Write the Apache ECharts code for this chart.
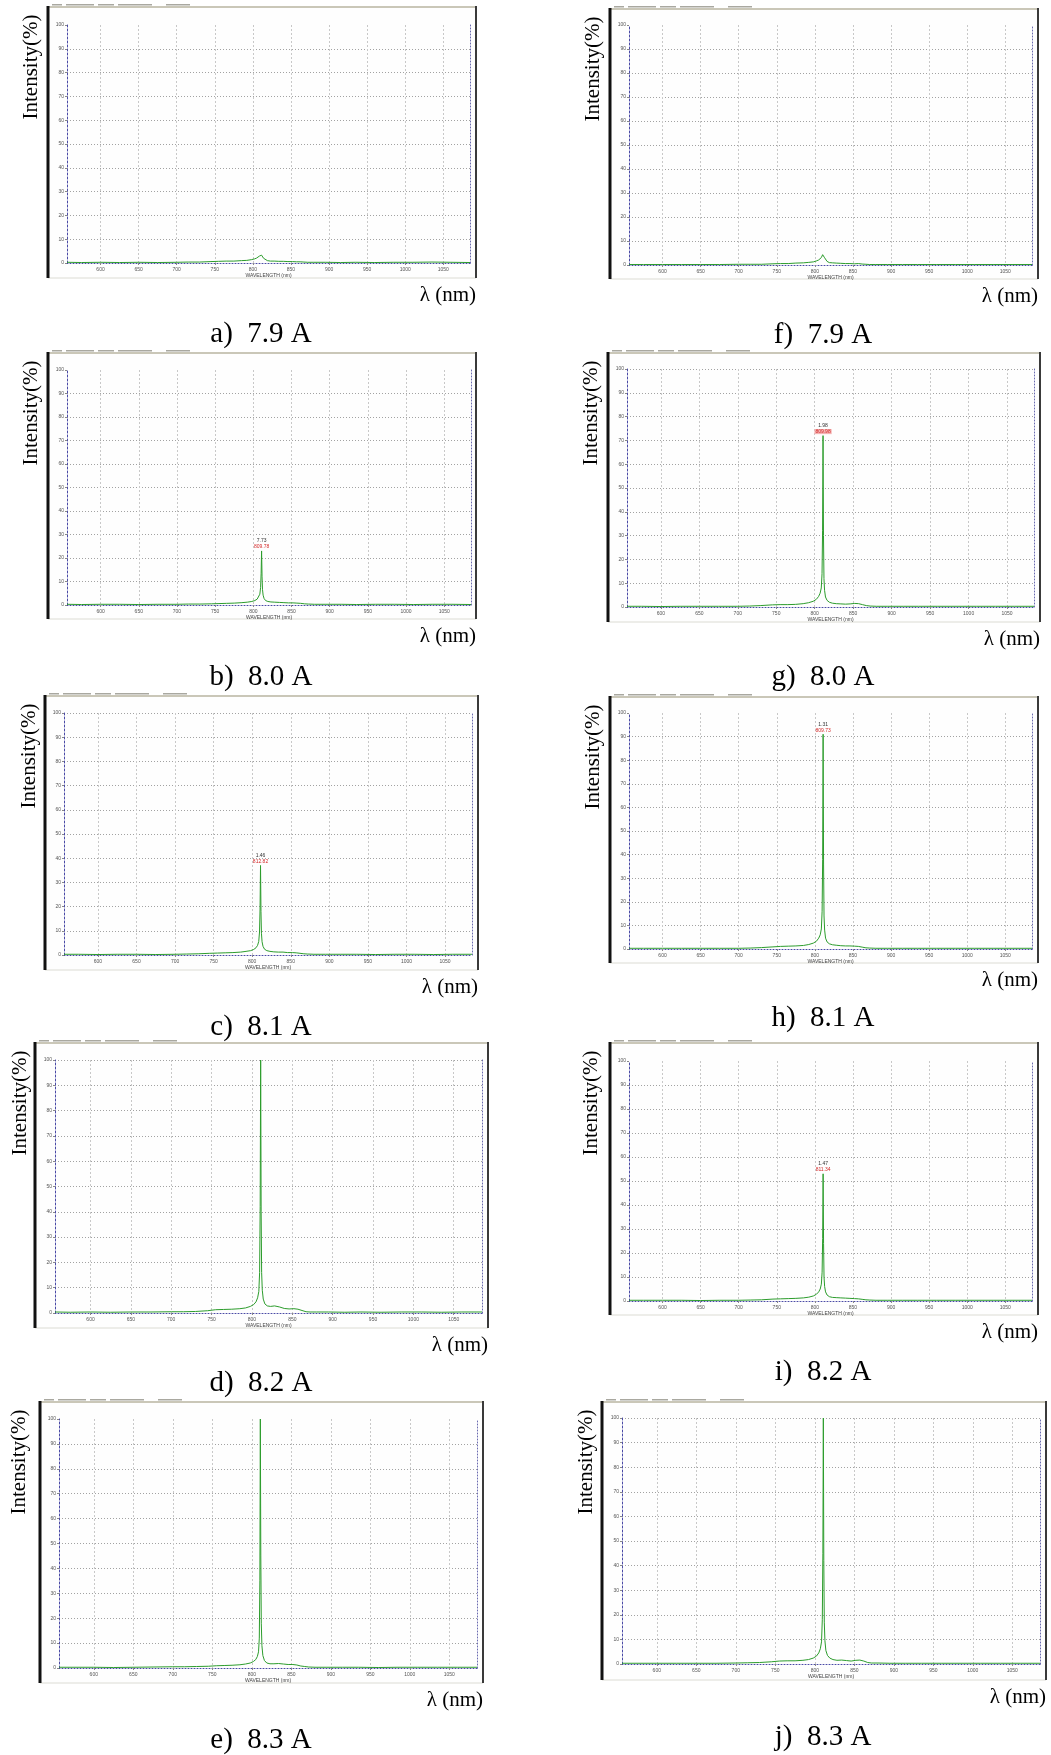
<!DOCTYPE html>
<html>
<head>
<meta charset="utf-8">
<script src="https://cdn.jsdelivr.net/npm/echarts@6/dist/echarts.min.js"></script>
<style>
  html, body { margin: 0; padding: 0; background: #fff; }
  #main { width: 1051px; height: 1755px; }
</style>
</head>
<body>
<div id="main"></div>
<script>
// wavelength samples (nm), shared by all ten spectra
var wavelength = [556,575,600,625,650,675,700,715,730,745,755,765,775,785,792,798,802,805,807,808.5,809.5,810.2,810.8,811.4,812,812.8,814,816,819,823,828,834,840,846,852,857,862,867,872,880,895,915,935,960,985,1010,1035,1060,1085];

// intensity (%)
var specA = [0.3,0.2,0.3,0.2,0.3,0.2,0.3,0.4,0.4,0.6,0.7,0.8,0.8,1.0,1.1,1.4,1.7,2.1,2.5,2.9,3.2,3.4,3.5,3.3,3.0,2.6,2.0,1.5,1.0,0.8,0.8,0.7,0.7,0.6,0.6,0.5,0.5,0.4,0.3,0.3,0.3,0.2,0.3,0.2,0.3,0.3,0.4,0.3,0.2];
var specB = [0.3,0.2,0.3,0.3,0.2,0.3,0.3,0.4,0.4,0.5,0.6,0.7,0.8,1.0,1.2,1.5,1.9,2.5,3.3,4.6,7.5,13.5,23,12,6.5,4.2,2.8,1.9,1.5,1.3,1.2,1.1,1.0,0.9,0.9,0.8,0.7,0.5,0.4,0.3,0.3,0.3,0.2,0.3,0.3,0.2,0.3,0.3,0.2];
var specC = [0.3,0.3,0.2,0.3,0.3,0.2,0.3,0.4,0.5,0.7,0.8,0.9,1.0,1.2,1.5,1.8,2.3,3.0,4.0,5.6,9.5,19,37,18,9,5.5,3.6,2.4,1.8,1.5,1.3,1.2,1.2,1.0,1.0,0.9,0.7,0.5,0.4,0.3,0.3,0.3,0.3,0.2,0.3,0.3,0.2,0.3,0.3];
var specD = [0.4,0.3,0.4,0.3,0.4,0.4,0.5,0.5,0.6,0.9,1.3,1.4,1.5,1.7,2.0,2.6,3.3,4.4,6.0,8.5,16,42,100,40,16,9,5.5,3.6,2.8,2.6,2.8,2.4,1.8,1.6,1.7,1.5,1.0,0.5,0.4,0.4,0.4,0.3,0.4,0.3,0.4,0.4,0.3,0.4,0.4];
var specE = [0.3,0.3,0.3,0.2,0.3,0.4,0.5,0.5,0.6,0.7,0.9,1.0,1.1,1.3,1.6,2.0,2.6,3.4,4.6,6.5,12,35,100,45,18,9,5,3,2,1.7,1.7,1.8,1.6,1.4,1.4,1.2,0.8,0.6,0.4,0.3,0.3,0.3,0.3,0.2,0.3,0.3,0.3,0.3,0.3];
var specF = [0.2,0.2,0.2,0.2,0.2,0.2,0.3,0.3,0.3,0.5,0.6,0.6,0.8,0.9,1.1,1.3,1.7,2.1,2.6,3.1,3.7,4.3,4.8,4.4,3.7,3.0,2.2,1.5,1.0,0.9,0.8,0.7,0.6,0.6,0.5,0.6,0.4,0.3,0.2,0.2,0.2,0.2,0.2,0.2,0.2,0.2,0.2,0.2,0.2];
var specG = [0.3,0.3,0.2,0.3,0.3,0.3,0.3,0.4,0.6,0.9,1.0,1.0,1.1,1.4,1.8,2.4,3.2,4.4,5.8,8,14,32,72,30,12,7,4.2,2.8,2.0,1.6,1.4,1.3,1.2,1.3,1.5,1.4,1.0,0.6,0.4,0.3,0.3,0.3,0.3,0.3,0.3,0.3,0.3,0.3,0.3];
var specH = [0.3,0.3,0.3,0.3,0.3,0.3,0.3,0.4,0.6,0.9,1.1,1.2,1.3,1.5,1.9,2.5,3.3,4.6,6.0,8.5,16,38,91,36,14,8,4.6,3.0,2.2,1.8,1.6,1.4,1.3,1.3,1.2,1.1,0.8,0.5,0.4,0.3,0.3,0.3,0.3,0.3,0.3,0.3,0.3,0.3,0.3];
var specI = [0.3,0.3,0.3,0.3,0.2,0.3,0.3,0.4,0.5,0.8,0.9,1.0,1.1,1.3,1.6,2.1,2.8,3.8,5.0,7,12,26,53,24,10,6,3.8,2.5,1.8,1.5,1.4,1.3,1.2,1.1,1.0,0.9,0.7,0.5,0.4,0.3,0.3,0.3,0.3,0.3,0.3,0.3,0.3,0.3,0.3];
var specJ = [0.3,0.3,0.3,0.3,0.3,0.3,0.4,0.5,0.6,0.9,1.2,1.3,1.3,1.5,1.8,2.4,3.2,4.5,6.2,9,18,45,100,42,17,9.5,5.5,3.5,2.4,1.8,1.5,1.6,1.4,1.2,1.5,1.6,1.2,0.6,0.4,0.4,0.3,0.3,0.3,0.3,0.3,0.3,0.3,0.3,0.3];

var spectra = [specA, specB, specC, specD, specE, specF, specG, specH, specI, specJ];
var captions = ['a)  7.9 A','b)  8.0 A','c)  8.1 A','d)  8.2 A','e)  8.3 A','f)  7.9 A','g)  8.0 A','h)  8.1 A','i)  8.2 A','j)  8.3 A'];
// peak readout printed by the spectrometer software ('' = none visible)
var peakCounts = ['', '7.73', '1.46', '', '', '', '1.98', '1.31', '1.47', ''];
var peakWaves  = ['', '809.78', '812.82', '', '', '', '809.98', '809.73', '811.34', ''];
var xTicks = [600,650,700,750,800,850,900,950,1000,1050];

// screenshot frames and plot areas, [left, top, right, bottom] in px
var layout = [
  {frame:[48,7,476,278],    plot:[67,25,470,263],    topLine:false, dx:-17, capX:261, capY:334},
  {frame:[48,353,476,619],  plot:[67,370,471,605],   topLine:false, dx:-17, capX:261, capY:677},
  {frame:[45,696,478,970],  plot:[64,713,472,955],   topLine:true,  dx:-16, capX:261, capY:1027},
  {frame:[35,1043,488,1328],plot:[55,1060,482,1313], topLine:true,  dx:-15, capX:261, capY:1383},
  {frame:[40,1402,483,1683],plot:[59,1419,477,1668], topLine:false, dx:-21, capX:261, capY:1740},
  {frame:[610,9,1038,279],  plot:[629,25,1032,265],  topLine:false, dx:-17, capX:823, capY:335},
  {frame:[608,353,1040,622],plot:[627,369,1034,607], topLine:true,  dx:-17, capX:823, capY:677},
  {frame:[610,697,1038,963],plot:[629,713,1032,949], topLine:false, dx:-17, capX:823, capY:1018},
  {frame:[610,1043,1038,1315],plot:[629,1061,1032,1301], topLine:false, dx:-19, capX:823, capY:1372},
  {frame:[602,1402,1046,1680],plot:[622,1418,1040,1664], topLine:true, dx:-16, capX:823, capY:1737}
];

var serif = 'Liberation Serif';
var tiny = 'Liberation Sans';
var chart = echarts.init(document.getElementById('main'));

var grids = [], xAxes = [], yAxes = [], rightAxes = [], series = [], elements = [];

function outerText(x, y, txt, size, align, rot) {
  return {
    type: 'text', x: x, y: y, rotation: rot || 0,
    style: {text: txt, fontFamily: serif, fontSize: size, fill: '#000',
      align: align, verticalAlign: 'middle', textAlign: align, textVerticalAlign: 'middle'}
  };
}

layout.forEach(function (p, k) {
  var pl = p.plot, fr = p.frame;
  grids.push({left: pl[0], top: pl[1], width: pl[2] - pl[0], height: pl[3] - pl[1], containLabel: false, outerBoundsMode: 'none'});

  xAxes.push({
    gridIndex: k, type: 'value', min: 556, max: 1085,
    name: 'WAVELENGTH (nm)', nameLocation: 'middle', nameGap: 10,
    nameTextStyle: {fontSize: 5, color: '#444', fontFamily: tiny},
    axisLine: {show: true, onZero: false, lineStyle: {color: '#4a4aa6', type: [1, 2], width: 1}},
    axisTick: {show: true, length: 2, customValues: xTicks, lineStyle: {color: '#888'}},
    axisLabel: {show: true, customValues: xTicks, fontSize: 5, color: '#555', margin: 4, fontFamily: tiny,
      formatter: function (v) { return String(v); }},
    splitLine: {show: true, lineStyle: {color: '#c8c8c8', type: [2, 2], width: 1}}
  });

  yAxes.push({
    gridIndex: k, type: 'value', min: 0, max: 100, interval: 10,
    axisLine: {show: true, lineStyle: {color: '#4a4aa6', type: [2, 2], width: 1}},
    axisTick: {show: true, length: 2, lineStyle: {color: '#888'}},
    axisLabel: {fontSize: 5, color: '#555', margin: 3, fontFamily: tiny},
    splitLine: {show: true, showMinLine: false, showMaxLine: p.topLine,
      lineStyle: {color: '#a2a2a2', type: [1, 2], width: 1}}
  });
  rightAxes.push({
    gridIndex: k, type: 'value', min: 0, max: 100, position: 'right',
    axisLine: {show: true, lineStyle: {color: '#6a6ab0', type: [1, 2], width: 1}},
    axisTick: {show: false}, axisLabel: {show: false}, splitLine: {show: false}
  });

  var s = {
    type: 'line', xAxisIndex: k, yAxisIndex: k,
    data: wavelength.map(function (w, n) { return [w, spectra[k][n]]; }),
    showSymbol: false, symbol: 'none', clip: true,
    lineStyle: {color: '#2c9c2c', width: 1}
  };
  if (peakCounts[k]) {
    s.markPoint = {
      symbol: 'circle', symbolSize: 0, silent: true,
      data: [{type: 'max'}],
      label: {
        show: true, position: 'top', distance: 1,
        formatter: '{t|' + peakCounts[k] + '}\n{r|' + peakWaves[k] + '}',
        rich: {
          t: {fontSize: 5, color: '#333', lineHeight: 6, fontFamily: tiny},
          r: {fontSize: 5, color: '#d42a2a', lineHeight: 6, fontFamily: tiny,
              backgroundColor: k === 6 ? '#f4b4b4' : 'transparent', padding: [0, 1]}
        }
      }
    };
  }
  series.push(s);

  // screenshot frame
  elements.push({type: 'rect', z: -10, shape: {x: fr[0], y: fr[1], width: fr[2] - fr[0], height: fr[3] - fr[1]},
    style: {fill: '#fefefe', stroke: '#dcdcd4', lineWidth: 1}});
  elements.push({type: 'rect', z: -9, shape: {x: fr[0], y: fr[1] - 1, width: fr[2] - fr[0], height: 2},
    style: {fill: '#cac7b8'}});
  [[4,14],[18,46],[50,66],[70,104],[118,142]].forEach(function (d) {
    elements.push({type: 'rect', z: -9, shape: {x: fr[0] + d[0], y: fr[1] - 3, width: d[1] - d[0], height: 1.5},
      style: {fill: '#a9a8a0'}});
  });
  elements.push({type: 'rect', z: -8, shape: {x: fr[0] - 1.5, y: fr[1] - 1, width: 3, height: fr[3] - fr[1] + 1},
    style: {fill: '#111'}});
  elements.push({type: 'rect', z: -8, shape: {x: fr[2] - 1, y: fr[1] - 1, width: 2, height: fr[3] - fr[1] + 1},
    style: {fill: '#3a3a3a'}});

  // labels around the screenshot
  elements.push(outerText(fr[0] + p.dx, fr[1] + 60, 'Intensity(%)', 21, 'center', Math.PI / 2));
  elements.push(outerText(fr[2], fr[3] + 17, 'λ (nm)', 21, 'right'));
  elements.push(outerText(p.capX, p.capY, captions[k], 29, 'center'));
});

chart.setOption({
  animation: false,
  backgroundColor: '#fff',
  grid: grids,
  xAxis: xAxes,
  yAxis: yAxes.concat(rightAxes),
  series: series,
  graphic: {elements: elements}
});
</script>
</body>
</html>
